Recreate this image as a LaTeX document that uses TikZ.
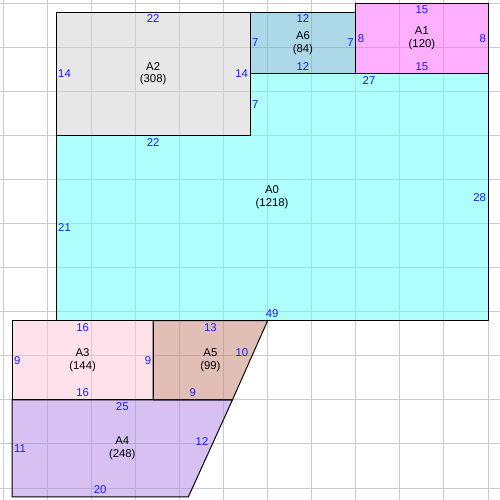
\documentclass[tikz,border=0pt]{standalone}
\usepackage{fontspec}
\setmainfont{Liberation Sans}
\definecolor{cA0}{HTML}{60FFFF}
\definecolor{cA1}{HTML}{FF60FF}
\definecolor{cA2}{HTML}{D1D1D1}
\definecolor{cA3}{HTML}{FFC5D9}
\definecolor{cA4}{HTML}{B185E9}
\definecolor{cA5}{HTML}{C58171}
\definecolor{cA6}{HTML}{5DB3D1}
\definecolor{lblue}{HTML}{1A1AFF}
\begin{document}
\begin{tikzpicture}[x=6.61pt,y=-6.61pt,
  lbl/.style={text=lblue,font=\fontsize{8.5}{10}\selectfont,inner sep=0pt},
  nm/.style={align=center,font=\fontsize{8.5}{9.6}\selectfont,inner sep=0pt},
  shp/.style={draw=black,line width=0.75pt},
  area/.style={fill opacity=0.5},
  gridl/.style={draw=black!20,line width=0.75pt}]
\useasboundingbox (-0.3745,-0.3745) rectangle (56.36,56.36);
\fill[white] (-0.3745,-0.3745) rectangle (56.36,56.36);
% grid
\begin{scope}
\clip (-0.3745,-0.3745) rectangle (56.36,56.36);
\foreach \k in {0,5,...,55} {
  \draw[gridl] (\k,-1) -- (\k,57);
  \draw[gridl] (-1,\k) -- (57,\k);
}
\end{scope}
% fills
\fill[cA0,area] (6,15) -- (28,15) -- (28,8) -- (55,8) -- (55,36) -- (6,36) -- cycle;
\fill[cA1,area] (40,0) rectangle (55,8);
\fill[cA2,area] (6,1) rectangle (28,15);
\fill[cA3,area] (1,36) rectangle (17,45);
\fill[cA4,area] (1,45) -- (26,45) -- (21,56) -- (1,56) -- cycle;
\fill[cA5,area] (17,36) -- (30,36) -- (26,45) -- (17,45) -- cycle;
\fill[cA6,area] (28,1) rectangle (40,8);
% outlines
\draw[shp] (6,15) -- (28,15) -- (28,8) -- (55,8) -- (55,36) -- (6,36) -- cycle;
\draw[shp] (40,0) rectangle (55,8);
\draw[shp] (6,1) rectangle (28,15);
\draw[shp] (1,36) rectangle (17,45);
\draw[shp] (1,45) -- (26,45) -- (21,56) -- (1,56) -- cycle;
\draw[shp] (17,36) -- (30,36) -- (26,45) -- (17,45) -- cycle;
\draw[shp] (28,1) rectangle (40,8);
% A2
\node[lbl] (a2t) at (17,1.76) {22};
\node[lbl,anchor=west] (a2l) at (6.2,8) {14};
\node[lbl,anchor=east] (a2r) at (27.8,8) {14};
\node[nm] (a2n) at (17,8) {A2\\(308)};
% A0
\node[lbl] (a0t) at (17,15.76) {22};
\node[lbl,anchor=west] (a0s) at (28.2,11.5) {7};
\node[lbl] (a0u) at (41.5,8.76) {27};
\node[lbl,anchor=east] (a0r) at (54.8,22) {28};
\node[lbl] (a0b) at (30.5,35.2) {49};
\node[lbl,anchor=west] (a0l) at (6.2,25.5) {21};
\node[nm] (a0n) at (30.5,22) {A0\\(1218)};
% A6
\node[lbl] (a6t) at (34,1.76) {12};
\node[lbl,anchor=west] (a6l) at (28.2,4.5) {7};
\node[lbl,anchor=east] (a6r) at (39.8,4.5) {7};
\node[lbl] (a6b) at (34,7.2) {12};
\node[nm] (a6n) at (34,4.5) {A6\\(84)};
% A1
\node[lbl] (a1t) at (47.5,0.76) {15};
\node[lbl,anchor=west] (a1l) at (40.2,4) {8};
\node[lbl,anchor=east] (a1r) at (54.8,4) {8};
\node[lbl] (a1b) at (47.5,7.2) {15};
\node[nm] (a1n) at (47.5,4) {A1\\(120)};
% A3
\node[lbl] (a3t) at (9,36.76) {16};
\node[lbl,anchor=west] (a3l) at (1.2,40.5) {9};
\node[lbl,anchor=east] (a3r) at (16.8,40.5) {9};
\node[lbl] (a3b) at (9,44.2) {16};
\node[nm] (a3n) at (9,40.5) {A3\\(144)};
% A5
\node[lbl] (a5t) at (23.5,36.76) {13};
\node[lbl] (a5s) at (27.08,39.68) {10};
\node[lbl] (a5b) at (21.5,44.2) {9};
\node[nm] (a5n) at (23.5,40.5) {A5\\(99)};
% A4
\node[lbl] (a4t) at (13.5,45.76) {25};
\node[lbl,anchor=west] (a4l) at (1.2,50.5) {11};
\node[lbl] (a4s) at (22.55,49.67) {12};
\node[lbl] (a4b) at (11,55.2) {20};
\node[nm] (a4n) at (13.5,50.5) {A4\\(248)};
\end{tikzpicture}
\end{document}
